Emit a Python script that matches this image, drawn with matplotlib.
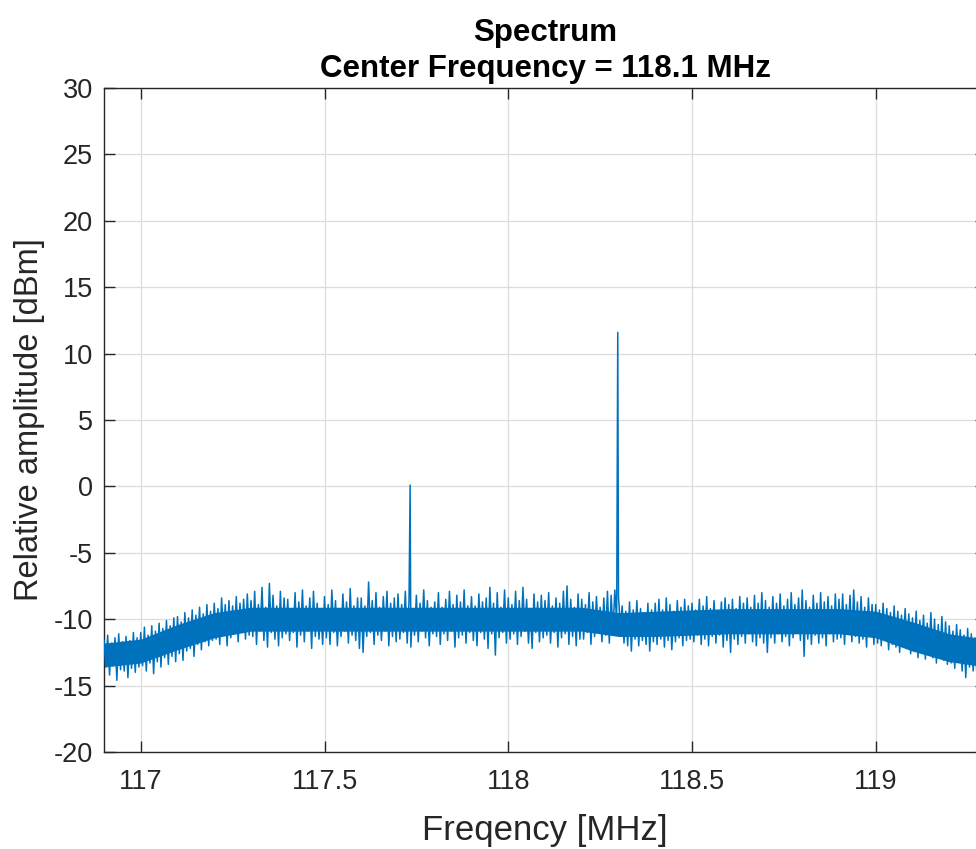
import numpy as np
import matplotlib
matplotlib.use("Agg")
import matplotlib.pyplot as plt

# ---------------- data ----------------
freq_start = 116.90          # MHz, first sample
freq_step = 0.01             # MHz between successive upper/lower pairs

# local maxima of the noise floor (dBm), one per 0.01 MHz, 116.90 ... 119.29
noise_upper = [
    -11.6, -11.2, -11.8, -11.4, -11.1, -11.7, -11.3, -11.6, -11.0, -11.4,
    -11.0, -10.6, -11.2, -10.5, -10.9, -10.3, -10.7, -10.1, -10.5, -9.9,
    -9.8, -10.2, -9.5, -9.9, -9.3, -9.7, -9.1, -9.6, -8.9, -9.4,
    -8.8, -9.2, -8.4, -8.9, -8.6, -9.0, -8.3, -8.8, -8.5, -8.1,
    -8.6, -7.9, -8.9, -7.6, -9.1, -7.3, -8.2, -9.0, -7.9, -8.4,
    -8.5, -9.2, -8.0, -8.7, -7.8, -9.0, -8.4, -7.9, -8.8, -9.2,
    -8.3, -8.9, -7.8, -8.6, -9.2, -8.1, -8.7, -7.7, -9.0, -8.4,
    -8.4, -9.0, -7.2, -8.6, -8.0, -9.1, -8.3, -7.9, -8.8, -8.4,
    -8.1, -8.9, -7.9, -8.6, -9.2, -8.2, -8.8, -7.8, -8.6, -9.1,
    -8.7, -8.0, -9.1, -8.5, -7.9, -8.9, -8.2, -8.7, -7.8, -9.0,
    -8.3, -9.0, -8.1, -8.7, -8.4, -7.6, -8.8, -8.0, -9.1, -7.8,
    -8.4, -8.9, -7.9, -8.6, -7.6, -8.5, -9.2, -8.1, -8.7, -8.2,
    -8.6, -8.0, -9.0, -8.4, -8.8, -7.9, -7.5, -8.5, -9.1, -8.1,
    -8.5, -8.9, -8.0, -8.7, -8.3, -9.1, -8.4, -7.9, -8.2, -7.8,
    -8.3, -9.0, -9.4, -8.7, -9.3, -8.6, -9.2, -9.5, -8.8, -9.3,
    -8.8, -8.5, -9.3, -8.4, -8.9, -9.4, -8.6, -9.1, -8.5, -9.0,
    -8.8, -9.3, -8.5, -9.0, -8.3, -9.2, -8.6, -9.4, -8.7, -8.4,
    -8.9, -8.5, -9.2, -8.3, -8.8, -8.4, -9.1, -8.2, -8.8, -8.0,
    -8.6, -9.1, -8.3, -8.8, -8.1, -9.0, -8.5, -8.0, -8.9, -8.4,
    -7.8, -8.6, -9.1, -8.2, -8.8, -8.0, -8.7, -8.3, -9.0, -8.1,
    -8.5, -8.1, -8.9, -8.2, -7.8, -8.7, -8.3, -9.1, -8.4, -8.9,
    -8.9, -9.3, -8.8, -9.2, -9.5, -9.0, -9.4, -9.7, -9.2, -9.6,
    -9.9, -9.4, -10.1, -9.7, -10.3, -9.5, -10.0, -10.4, -9.8, -10.2,
    -10.5, -10.9, -10.4, -10.8, -11.2, -10.7, -11.1, -11.4, -11.0, -11.3,
]

# local minima of the noise floor (dBm), half a step after each maximum
noise_lower = [
    -13.6, -14.2, -13.5, -14.6, -13.8, -13.9, -14.4, -13.7, -14.0, -13.6,
    -13.5, -13.9, -13.3, -14.1, -13.2, -13.6, -12.9, -13.4, -12.8, -13.2,
    -12.6, -13.1, -12.4, -12.2, -12.8, -11.9, -12.3, -11.7, -12.0, -11.6,
    -11.5, -11.9, -11.2, -12.0, -11.4, -11.1, -11.7, -11.0, -11.5, -11.2,
    -11.3, -11.9, -10.9, -11.6, -12.1, -11.0, -11.5, -12.0, -11.4, -11.1,
    -11.6, -11.0, -12.1, -11.2, -11.7, -10.9, -12.2, -11.3, -11.5, -11.9,
    -11.4, -11.9, -11.0, -12.0, -11.3, -10.9, -11.8, -11.2, -11.6, -12.2,
    -12.5, -11.3, -11.0, -11.9, -11.2, -11.6, -10.9, -12.0, -11.3, -11.7,
    -11.5, -11.0, -11.8, -12.1, -11.2, -11.7, -10.9, -11.4, -12.0, -11.1,
    -11.3, -11.9, -11.1, -11.6, -10.9, -12.1, -11.4, -11.2, -11.8, -11.0,
    -11.6, -12.0, -11.0, -11.5, -12.2, -11.1, -12.7, -11.4, -11.0, -11.8,
    -11.5, -11.1, -11.9, -11.3, -10.9, -11.8, -12.2, -11.0, -11.7, -11.4,
    -11.2, -11.8, -11.0, -12.1, -11.4, -11.1, -11.9, -11.3, -12.0, -11.5,
    -11.5, -11.0, -11.9, -11.3, -10.9, -11.7, -11.2, -11.8, -10.9, -10.2,
    -10.6, -11.8, -12.0, -12.4, -11.5, -12.0, -11.6, -11.9, -12.4, -11.7,
    -11.9, -11.5, -12.1, -11.6, -12.3, -11.7, -11.4, -12.0, -11.6, -11.5,
    -11.7, -11.2, -11.9, -11.5, -12.0, -11.3, -11.8, -11.2, -12.1, -11.6,
    -12.5, -11.5, -11.9, -11.3, -11.8, -11.1, -11.7, -12.0, -11.4, -11.8,
    -12.5, -11.4, -11.8, -11.1, -11.7, -11.3, -12.0, -11.4, -11.0, -11.6,
    -12.8, -11.5, -11.9, -11.2, -11.8, -11.4, -12.0, -11.1, -11.7, -11.5,
    -11.4, -11.9, -11.1, -11.7, -11.3, -11.8, -11.5, -12.1, -11.3, -11.9,
    -11.8, -12.0, -11.6, -12.3, -11.9, -12.1, -12.5, -11.8, -12.2, -12.6,
    -12.4, -12.9, -12.2, -13.0, -12.6, -12.9, -13.3, -12.7, -13.1, -13.4,
    -13.3, -13.7, -13.2, -13.9, -14.4, -13.6, -13.9, -14.1, -13.8, -14.0,
]

# dense core of the noise band (dBm), every 0.1 MHz from 116.9 to 119.3
core_freqs = [116.9, 117.0, 117.1, 117.2, 117.3, 117.4, 117.5, 117.6, 117.7,
              117.8, 117.9, 118.0, 118.1, 118.2, 118.3, 118.4, 118.5, 118.6,
              118.7, 118.8, 118.9, 119.0, 119.1, 119.2, 119.3]
core_top = [-11.8, -11.5, -10.4, -9.5, -9.1, -9.1, -9.1, -9.1, -9.1,
            -9.1, -9.1, -9.1, -9.1, -9.1, -9.5, -9.4, -9.3, -9.2,
            -9.2, -9.2, -9.2, -9.4, -10.2, -11.1, -11.5]
core_bottom = [-13.6, -13.3, -12.3, -11.4, -10.9, -10.9, -10.9, -10.9, -10.9,
               -10.9, -10.9, -10.9, -10.9, -10.9, -11.3, -11.3, -11.2, -11.1,
               -11.1, -11.1, -11.1, -11.4, -12.4, -13.2, -13.6]

# narrow carriers
carrier_freqs = [117.733, 118.298]   # MHz
carrier_levels = [0.1, 11.6]         # dBm

x_ticks = [117, 117.5, 118, 118.5, 119]
x_tick_labels = ["117", "117.5", "118", "118.5", "119"]
y_ticks = list(range(-20, 31, 5))

title_text = "Spectrum\nCenter Frequency = 118.1 MHz"
x_label = "Freqency [MHz]"
y_label = "Relative amplitude [dBm]"

# ---------------- build the trace ----------------
n = len(noise_upper)
f_up = freq_start + freq_step * np.arange(n)
f_lo = f_up + freq_step / 2
freq = np.empty(2 * n)
amp = np.empty(2 * n)
freq[0::2], freq[1::2] = f_up, f_lo
amp[0::2], amp[1::2] = noise_upper, noise_lower
freq = np.concatenate([freq, carrier_freqs])
amp = np.concatenate([amp, carrier_levels])
order = np.argsort(freq)
freq, amp = freq[order], amp[order]

# ---------------- plot ----------------
plt.rcParams["font.family"] = ["Liberation Sans", "DejaVu Sans"]
plt.rcParams["axes.unicode_minus"] = False
fig = plt.figure(figsize=(9.76, 8.49), dpi=100)
ax = fig.add_axes([104 / 976, 97 / 849, 882 / 976, 664 / 849])

line_color = "#0072BD"
ax.fill_between(core_freqs, core_bottom, core_top, color=line_color,
                linewidth=0, zorder=2)
ax.plot(freq, amp, color=line_color, linewidth=1.1, zorder=3)

ax.set_xlim(116.9, 119.3)
ax.set_ylim(-20, 30)
ax.set_xticks(x_ticks)
ax.set_xticklabels(x_tick_labels)
ax.set_yticks(y_ticks)

ax.grid(True, color="#dcdcdc", linewidth=0.9)
ax.set_axisbelow(True)
for s in ax.spines.values():
    s.set_color("#262626")
    s.set_linewidth(1.0)
ax.tick_params(direction="in", length=8, width=1.0, colors="#262626",
               labelsize=19.5, top=True, right=True)
ax.tick_params(axis="x", pad=12)
ax.tick_params(axis="y", pad=8)

ax.set_title(title_text, fontsize=22.5, fontweight="bold", color="black",
             pad=8, linespacing=1.25)
ax.set_xlabel(x_label, fontsize=25, color="#262626", labelpad=14)
ax.set_ylabel(y_label, fontsize=23.5, color="#262626", labelpad=6)

fig.savefig("out.png", dpi=100)
